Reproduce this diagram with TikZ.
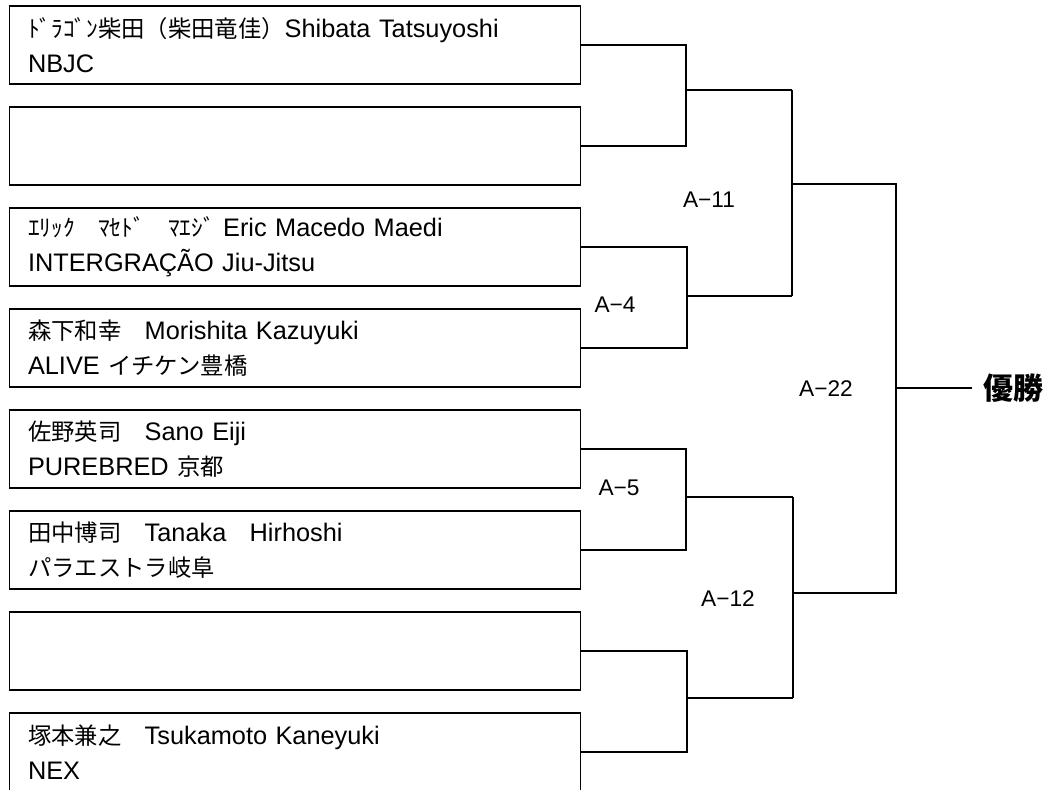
\documentclass[tikz,border=0pt]{standalone}
\usepackage{fontspec}
\setmainfont{Liberation Sans}
\newfontfamily\jpfont{Noto Sans CJK JP}
\newcommand{\namefont}{\fontsize{19pt}{26.5pt}\selectfont}
\newcommand{\jp}[1]{{\fontsize{17.5pt}{26.5pt}\jpfont #1}}
\newcommand{\boutfont}{\fontsize{17pt}{19pt}\selectfont}
\newcommand{\winfont}{\fontsize{22.5pt}{24pt}\selectfont\jpfont\bfseries}

\begin{document}
\begin{tikzpicture}[x=0.75pt, y=-0.75pt, line width=1.1pt]
\useasboundingbox (0,0) rectangle (1049,789);

\tikzstyle{boldline}=[line width=1.9pt]

\tikzstyle{every node}=[rectangle, draw, line width=1.1pt, inner xsep=13.875pt, inner ysep=0pt, text width=400.5pt, minimum height=58.5pt, align=left, font=\namefont]
\draw    (295,  45)   node (p1) {\jp{ﾄﾞﾗｺﾞﾝ柴田（柴田竜佳）}Shibata Tatsuyoshi\\NBJC}
         (295, 146)   node (p2) {}
         (295, 247)   node (p3) {\jp{ｴﾘｯｸ　ﾏｾﾄﾞ　ﾏｴｼﾞ} Eric Macedo Maedi\\INTERGRAÇÃO Jiu-Jitsu}
         (295, 348)   node (p4) {\jp{森下和幸　}Morishita Kazuyuki\\ALIVE \jp{イチケン豊橋}}
         (295, 449)   node (p5) {\jp{佐野英司　}Sano Eiji\\PUREBRED \jp{京都}}
         (295, 550)   node (p6) {\jp{田中博司　}Tanaka\jp{　}Hirhoshi\\\jp{パラエストラ岐阜}}
         (295, 651)   node (p7) {}
         (295, 752)   node (p8) {\jp{塚本兼之　}Tsukamoto Kaneyuki\\NEX};

\tikzstyle{every node}=[draw=none, inner sep=0pt, font=\boutfont]
\draw    (709, 200)   node (m11) {A−11}
         (615, 305)   node (m4)  {A−4}
         (826, 389)   node (m22) {A−22}
         (619, 488)   node (m5)  {A−5}
         (728, 599)   node (m12) {A−12};

\tikzstyle{every node}=[draw=none, inner xsep=7.5pt, font=\winfont]
\draw    (1013, 388)  node (win) {優勝};

\coordinate (j1) at (686, 90);
\coordinate (j2) at (687, 296);
\coordinate (j3) at (686, 497);
\coordinate (j4) at (687, 698);
\coordinate (k1) at (792, 184);
\coordinate (k2) at (793, 593);
\coordinate (fin) at (896, 388);

% first round
\draw (p1.east) -| (j1) |- (p2.east);
\draw (p3.east) -| (j2) |- (p4.east);
\draw (p5.east) -| (j3) |- (p6.east);
\draw (p7.east) -| (j4) |- (p8.east);

\draw[boldline] (j1) -- (j1 -| k1);
\draw[boldline] (j2) -- (j2 -| k1);
\draw[boldline] (j3) -- (j3 -| k2);
\draw[boldline] (j4) -- (j4 -| k2);

% second round
\draw (k1 |- j1) -- (k1 |- j2);
\draw (k2 |- j3) -- (k2 |- j4);

% final
\draw (k1) -| (fin) |- (k2);
\draw (fin) -- (win);

\end{tikzpicture}
\end{document}
